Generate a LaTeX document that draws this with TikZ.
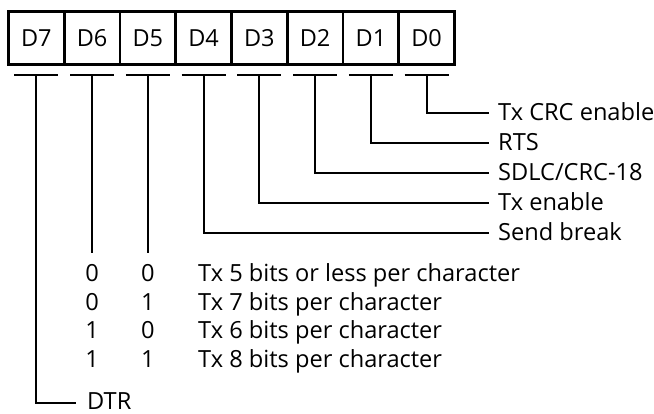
\documentclass[tikz,border=0pt]{standalone}
\usepackage{fontspec}
\setmainfont{Open Sans}
\begin{document}
\begin{tikzpicture}[x=1pt,y=-1pt,
  bitbox/.style={draw,line width=2.7pt,minimum width=55.75pt,minimum height=53pt,inner sep=0pt,font=\fontsize{23.5}{28}\selectfont},
  bar/.style={line width=2pt},
  wire/.style={line width=2pt},
  lbl/.style={anchor=base west,inner sep=0pt,font=\fontsize{23.6}{28}\selectfont},
  dig/.style={anchor=base,inner sep=0pt,font=\fontsize{23.6}{28}\selectfont}]
\useasboundingbox (0,0) rectangle (654,414);
% boxes
\node[bitbox] (d7) at (36.4,38) {D7};
\node[bitbox] (d6) at (92.1,38) {D6};
\node[bitbox] (d5) at (147.9,38) {D5};
\node[bitbox] (d4) at (203.6,38) {D4};
\node[bitbox] (d3) at (259.4,38) {D3};
\node[bitbox] (d2) at (315.1,38) {D2};
\node[bitbox] (d1) at (370.9,38) {D1};
\node[bitbox] (d0) at (426.6,38) {D0};
% bars under boxes
\foreach \b in {d7,d6,d5,d4,d3,d2,d1,d0}{
  \coordinate (\b t) at ([yshift=-9.5pt]\b.south);
  \draw[bar] ([xshift=-22pt]\b t) -- ([xshift=22pt]\b t);
}
% labels
\node[lbl] (l0) at (498,121) {Tx CRC enable};
\node[lbl] (l1) at (498,151) {RTS};
\node[lbl] (l2) at (498,181) {SDLC/CRC-18};
\node[lbl] (l3) at (498,211) {Tx enable};
\node[lbl] (l4) at (498,241) {Send break};
\coordinate (e0) at (489,113);
\coordinate (e1) at (489,143);
\coordinate (e2) at (489,173);
\coordinate (e3) at (489,203);
\coordinate (e4) at (489,233);
\draw[wire] (d0t) |- (e0);
\draw[wire] (d1t) |- (e1);
\draw[wire] (d2t) |- (e2);
\draw[wire] (d3t) |- (e3);
\draw[wire] (d4t) |- (e4);
% D6 D5 lines
\coordinate (e6) at (92.1,253);
\coordinate (e5) at (147.9,253);
\draw[wire] (d6t) -- (e6);
\draw[wire] (d5t) -- (e5);
% table
\node[dig] (a1) at (92.1,282) {0}; \node[dig] (b1) at (147.9,282) {0}; \node[lbl] (t1) at (198,282) {Tx 5 bits or less per character};
\node[dig] (a2) at (92.1,310.5) {0}; \node[dig] (b2) at (147.9,310.5) {1}; \node[lbl] (t2) at (198,310.5) {Tx 7 bits per character};
\node[dig] (a3) at (92.1,339) {1}; \node[dig] (b3) at (147.9,339) {0}; \node[lbl] (t3) at (198,339) {Tx 6 bits per character};
\node[dig] (a4) at (92.1,367.5) {1}; \node[dig] (b4) at (147.9,367.5) {1}; \node[lbl] (t4) at (198,367.5) {Tx 8 bits per character};
% DTR
\node[lbl] (l7) at (87,409.5) {DTR};
\coordinate (e7) at (76,403);
\draw[wire] (d7t) |- (e7);
\end{tikzpicture}
\end{document}
